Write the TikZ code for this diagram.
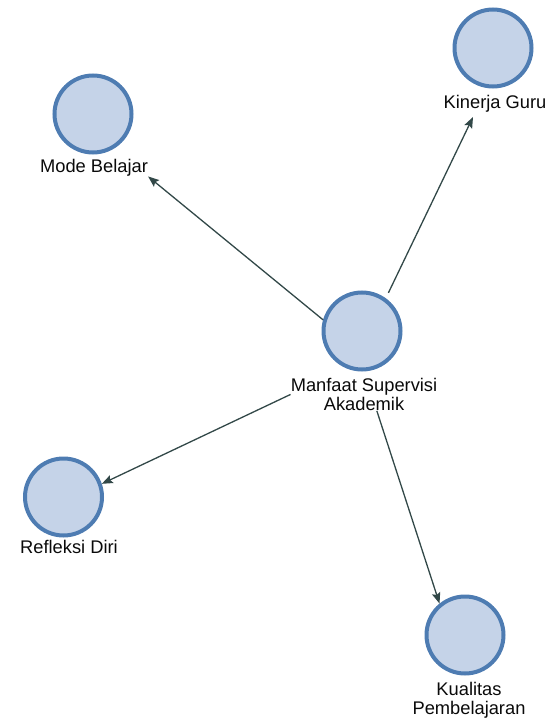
\documentclass[tikz,border=0pt]{standalone}
\usepackage{fontspec}
\setmainfont{Liberation Sans}
\usetikzlibrary{arrows.meta}
\definecolor{ringblue}{RGB}{78,124,178}
\definecolor{fillblue}{RGB}{197,211,232}
\definecolor{edgegray}{RGB}{50,72,72}
\definecolor{txt}{RGB}{10,10,10}
\tikzset{
  vertex/.style={circle, draw=ringblue, fill=fillblue, line width=4pt, minimum size=77pt, inner sep=0pt},
  lbl/.style={anchor=north, inner sep=0pt, align=center, text=txt, font=\fontsize{18.3}{19}\selectfont},
  link/.style={draw=edgegray, line width=1.3pt, -{Stealth[length=11pt,width=8.5pt,inset=2pt]}}
}
\begin{document}
\begin{tikzpicture}[x=1pt,y=-1pt]
\useasboundingbox (0,0) rectangle (549,722);
% nodes
\node[vertex] (c) at (362,331) {};
\node[lbl] (cl) at (364,378) {Manfaat Supervisi\\Akademik};
\node[vertex] (m) at (93,114) {};
\node[lbl] (ml) at (94,159) {Mode Belajar};
\node[vertex] (g) at (493,48) {};
\node[lbl] (gl) at (495,95) {Kinerja Guru};
\node[vertex] (r) at (63.5,497) {};
\node[lbl] (rl) at (69,540) {Refleksi Diri};
\node[vertex] (k) at (465,635) {};
\node[lbl] (kl) at (469,682) {Kualitas\\Pembelajaran};
\coordinate (gend) at (473,117);
% connectors
\draw[link] (c.164) -- (ml.south east);
\draw[link, shorten <=6pt] (c.54) -- (gend);
\draw[link] (cl.west) -- (r.19);
\draw[link] (cl.-52) -- (k.129);
\end{tikzpicture}
\end{document}
